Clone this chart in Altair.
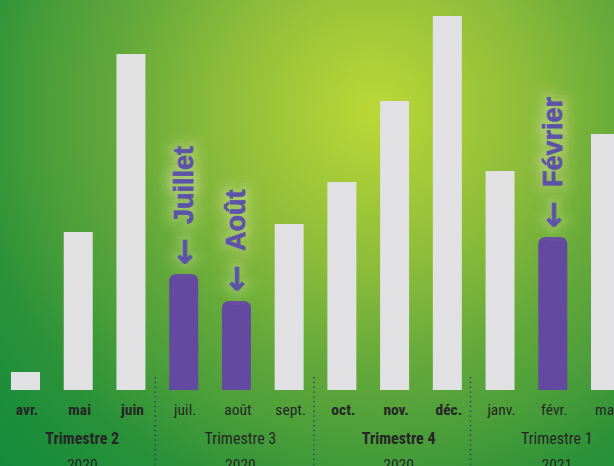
import altair as alt
import pandas as pd

# ---- data ----
months = ["avr.", "mai", "juin", "juil.", "août", "sept.", "oct.", "nov.", "déc.", "janv.", "févr.", "mar"]
values = [18, 158, 336, 116, 89, 166, 208, 289, 374, 219, 153, 256]
highlight = [False, False, False, True, True, False, False, False, False, False, True, False]
annotations = ["", "", "", "Juillet", "Août", "", "", "", "", "", "Février", ""]
month_bold = [True, True, True, False, False, False, True, True, True, False, False, False]

quarters = ["Trimestre 2", "Trimestre 3", "Trimestre 4", "Trimestre 1"]
years = ["2020", "2020", "2020", "2021"]
quarter_bold = [True, False, True, False]
quarter_center = [1, 4, 7, 10]
separators = [2.46, 5.47, 8.44]

W, H = 614, 466

df = pd.DataFrame({
    "idx": list(range(len(months))),
    "month": months,
    "value": values,
    "hl": highlight,
    "note": annotations,
    "bold": month_bold,
})
df["x0"] = df["idx"] - 0.275
df["x1"] = df["idx"] + 0.275
df["zero"] = 0

qdf = pd.DataFrame({"q": quarters, "year": years, "bold": quarter_bold, "c": quarter_center})
sdf = pd.DataFrame({"s": separators})

xs = alt.Scale(domain=[-0.4836, 11.161], nice=False, zero=False)
ys = alt.Scale(domain=[-76, 390], nice=False, zero=False)

grad = alt.RadialGradient(
    gradient="radial",
    x1=0.61, y1=0.3, r1=0,
    x2=0.61, y2=0.3, r2=0.85,
    stops=[
        alt.GradientStop(offset=0, color="#bcd836"),
        alt.GradientStop(offset=0.3, color="#8cbc3a"),
        alt.GradientStop(offset=0.5, color="#62a83a"),
        alt.GradientStop(offset=0.64, color="#4a9e3a"),
        alt.GradientStop(offset=0.78, color="#2a9238"),
        alt.GradientStop(offset=1, color="#128a3c"),
    ],
)

bg = alt.Chart(pd.DataFrame({"a": [0]})).mark_rect(color=grad).encode(
    x=alt.value(0), x2=alt.value(W), y=alt.value(0), y2=alt.value(H)
)

base = alt.Chart(df)

grey_bars = base.transform_filter("!datum.hl").mark_bar(color="#e1e1e3").encode(
    x=alt.X("x0:Q", scale=xs, axis=None),
    x2="x1:Q",
    y=alt.Y("value:Q", scale=ys, axis=None),
    y2="zero:Q",
)

purple_bars = base.transform_filter("datum.hl").mark_bar(
    color="#6349a0", cornerRadiusTopLeft=7, cornerRadiusTopRight=7
).encode(
    x=alt.X("x0:Q", scale=xs, axis=None),
    x2="x1:Q",
    y=alt.Y("value:Q", scale=ys, axis=None),
    y2="zero:Q",
)

narrow = "'Roboto Condensed', 'Liberation Sans Narrow', 'Arial Narrow', 'DejaVu Sans Condensed', sans-serif"


def label_layer(src, filt, field, y, size, weight, dx):
    return src.transform_filter(filt).mark_text(
        font=narrow, fontSize=size, fontWeight=weight, color="#262626",
        align="center", baseline="alphabetic", dx=dx
    ).encode(x=alt.X(("idx" if field == "month" else "c") + ":Q", scale=xs, axis=None),
             y=alt.value(y), text=field + ":N")


month_bold_txt = label_layer(base, "datum.bold", "month", 415, 15.5, "bold", 1.5)
month_norm_txt = label_layer(base, "!datum.bold", "month", 415, 15.5, "normal", 1.5)

qbase = alt.Chart(qdf)
q_bold = label_layer(qbase, "datum.bold", "q", 444, 16, "bold", 4)
q_norm = label_layer(qbase, "!datum.bold", "q", 444, 16, "normal", 4)
yr = label_layer(qbase, "true", "year", 470, 15.5, "normal", 4)

seps = alt.Chart(sdf).mark_rule(
    color="#2e3a7a", strokeWidth=1.4, strokeDash=[1.4, 3.4]
).encode(x=alt.X("s:Q", scale=xs, axis=None), y=alt.value(377), y2=alt.value(H))

notes = base.transform_filter("datum.hl")


def note_layer(text_expr, font, size, dx, stroke=None, sw=0, so=0.0):
    kw = dict(
        font=font, fontSize=size, fontWeight="bold",
        angle=270, align="left", baseline="middle", dx=dx, dy=1,
    )
    if stroke:
        kw.update(color=stroke, stroke=stroke, strokeWidth=sw, strokeOpacity=so,
                  fillOpacity=so, strokeJoin="round")
    else:
        kw.update(color="#5d52aa", stroke="#5d52aa", strokeWidth=0.6)
    return notes.transform_calculate(lab=text_expr).mark_text(**kw).encode(
        x=alt.X("idx:Q", scale=xs, axis=None),
        y=alt.Y("value:Q", scale=ys, axis=None),
        text="lab:N",
    )


word_font = "'Liberation Sans', 'Noto Sans', sans-serif"
arrow_font = "'DejaVu Sans', sans-serif"

layers = []
for sw, so, col in [(30, 0.04, "#e8f2a0"), (22, 0.05, "#eef5b0"), (15, 0.06, "#f0f6c0"), (8, 0.08, "#f4f8d0")]:
    layers.append(note_layer("datum.note", word_font, 27, 50, col, sw, so))
    layers.append(note_layer("'←'", arrow_font, 32, 9, col, sw, so))
layers.append(note_layer("datum.note", word_font, 27, 50))
layers.append(note_layer("'←'", arrow_font, 32, 9))

chart = alt.layer(
    bg, grey_bars, purple_bars, seps,
    month_bold_txt, month_norm_txt, q_bold, q_norm, yr,
    *layers,
).properties(
    width=W, height=H, padding=0, autosize=alt.AutoSizeParams(type="none")
).configure_view(stroke=None)

chart.save("out.html", embed_options={"renderer": "svg", "actions": False})
